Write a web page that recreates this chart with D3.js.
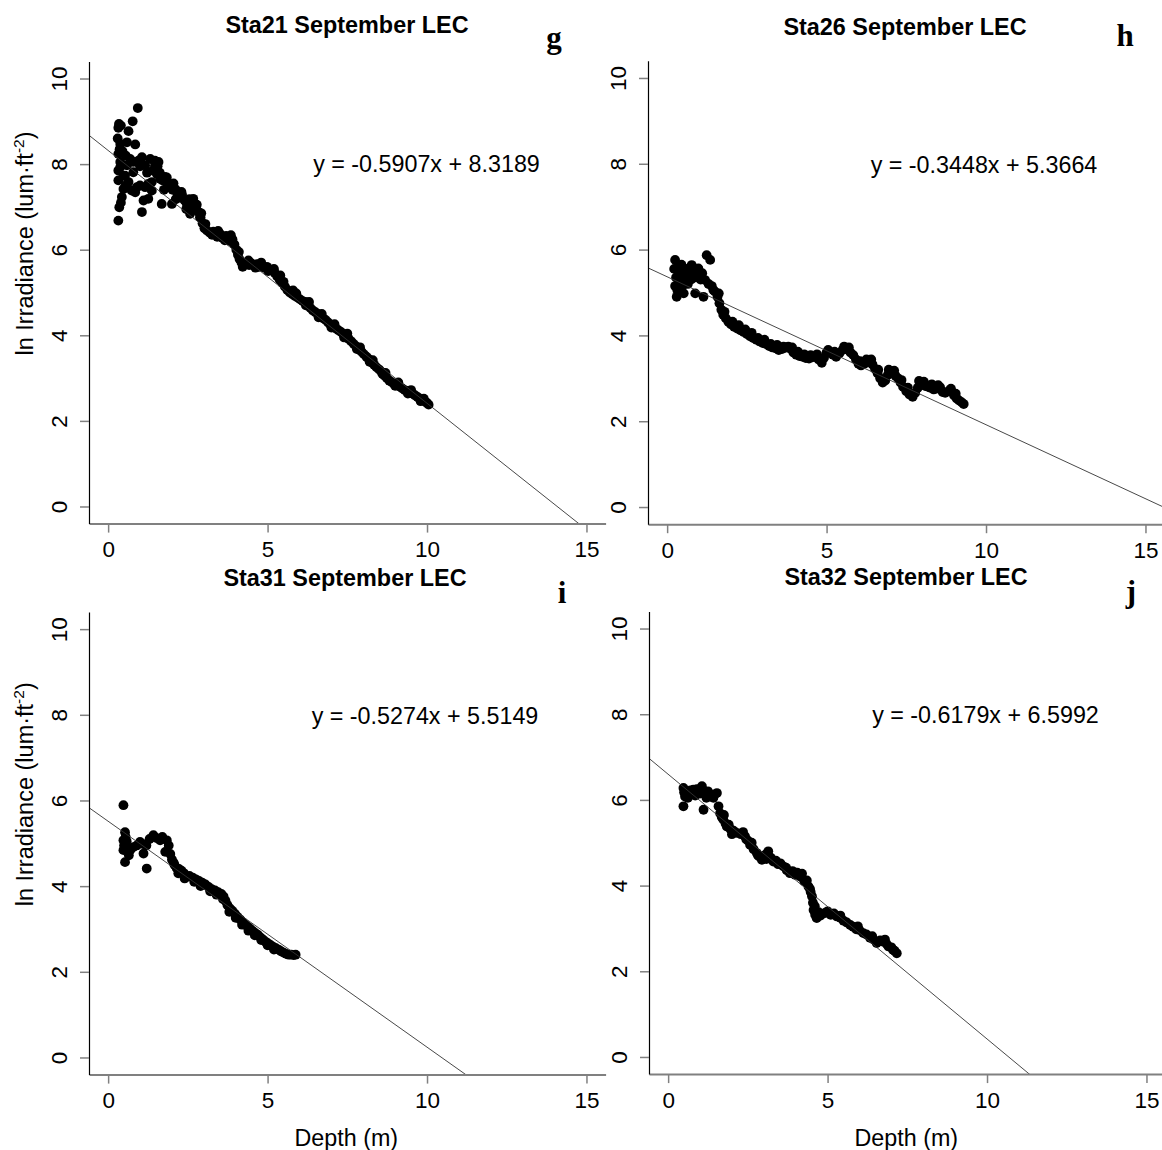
<!DOCTYPE html>
<html><head><meta charset="utf-8">
<script src="https://cdn.jsdelivr.net/npm/d3@7"></script>
<style>body{margin:0;background:#fff} svg{display:block}</style>
</head><body>
<svg id="c" width="1162" height="1150"></svg>
<script>
// ---------------- DATA ----------------
const depthTicks = [0, 5, 10, 15];
const irrTicks = [0, 2, 4, 6, 8, 10];
const titles = ["Sta21 September LEC", "Sta26 September LEC", "Sta31 September LEC", "Sta32 September LEC"];
const letters = ["g", "h", "i", "j"];
const slopes = [-0.5907, -0.3448, -0.5274, -0.6179];
const intercepts = [8.3189, 5.3664, 5.5149, 6.5992];
const equations = ["y = -0.5907x + 8.3189", "y = -0.3448x + 5.3664", "y = -0.5274x + 5.5149", "y = -0.6179x + 6.5992"];
const xLabel = "Depth (m)";

// [depth (m), ln irradiance]
const sta21 = [
 [0.93,9.31],[0.34,8.94],[0.77,9.00],[0.64,8.77],[0.32,8.85],[0.40,8.90],[0.38,8.47],[0.59,8.51],[0.85,8.46],[0.32,8.24],
 [0.38,8.05],[0.69,8.12],[0.95,8.08],[1.16,7.97],[1.47,8.08],[1.53,7.89],[0.32,7.85],[0.32,7.62],[0.53,7.73],[0.79,7.81],
 [1.00,7.50],[1.26,7.54],[1.37,7.38],[0.74,7.38],[0.48,7.42],[0.43,7.23],[0.85,7.34],[1.11,7.15],[1.26,7.19],[1.68,7.07],
 [0.35,6.99],[0.32,6.68],[1.06,6.88],[1.58,8.05],[0.59,7.97],[0.79,8.05],[1.06,8.16],[1.32,8.12],[1.47,7.97],[1.53,7.77],
 [1.37,7.58],[1.16,7.46],[0.90,7.46],[0.64,7.58],[0.48,7.73],[0.38,7.93],[0.45,8.30],[0.55,8.20],[0.30,8.60],[0.36,8.35],
 [1.00,7.95],[1.22,7.80],[0.40,7.10],[0.55,7.50],
 [1.63,7.66],[1.84,7.69],[1.94,7.46],[2.15,7.38],[2.26,7.23],[2.67,7.19],[2.47,7.07],[2.00,7.07],[2.57,6.84],[2.78,6.92],[2.88,6.76],
 [1.55,7.95],[1.62,7.80],[1.70,7.62],[1.78,7.70],[1.86,7.55],[1.95,7.50],[2.02,7.40],[2.10,7.42],[2.18,7.30],[2.25,7.22],
 [2.32,7.28],[2.40,7.15],[2.48,7.10],[2.55,7.18],[2.62,7.05],[2.70,6.98],[2.78,7.05],[2.84,6.88],[2.90,6.75],[2.96,6.62],
 [3.02,6.50],[3.10,6.45],[3.18,6.40],[3.26,6.35],[3.34,6.38],[3.42,6.30],[3.50,6.38],[3.58,6.28],[3.66,6.22],[3.74,6.28],
 [3.82,6.20],[3.90,6.24],[3.96,6.12],[4.02,6.00],[4.07,5.88],[4.12,5.78],[4.18,5.70],[4.26,5.66],[4.34,5.70],[4.42,5.64],
 [4.50,5.68],[4.58,5.62],[4.66,5.66],[4.74,5.60],[4.82,5.64],[4.90,5.58],[4.98,5.60],[5.06,5.54],[5.14,5.52],[5.22,5.46],
 [5.30,5.38],[5.38,5.30],[5.46,5.22],[5.54,5.14],[5.62,5.06],[5.70,5.00],[5.78,4.96],[5.86,4.92],[5.94,4.88],[6.02,4.84],
 [6.10,4.80],[6.18,4.78],[6.26,4.72],[6.34,4.64],[6.42,4.58],[6.50,4.54],[6.58,4.50],[6.66,4.45],[6.74,4.40],[6.82,4.36],
 [6.90,4.30],[6.98,4.24],[7.06,4.19],[7.14,4.16],[7.22,4.12],[7.30,4.08],[7.38,4.02],[7.46,3.97],[7.54,3.92],[7.62,3.86],
 [7.70,3.80],[7.78,3.74],[7.86,3.68],[7.94,3.62],[8.02,3.56],[8.10,3.50],[8.18,3.44],[8.26,3.37],[8.34,3.31],[8.42,3.25],
 [8.50,3.20],[8.58,3.14],[8.66,3.06],[8.74,3.00],[8.82,2.94],[8.90,2.90],[8.98,2.86],[9.06,2.83],[9.14,2.80],[9.22,2.76],
 [9.30,2.72],[9.38,2.70],[9.46,2.66],[9.54,2.64],[9.62,2.60],[9.70,2.56],[9.78,2.52],[9.86,2.48],[9.94,2.45],[10.00,2.42],[10.05,2.38],
 [2.05,7.55],[2.30,7.35],[2.60,7.12],[2.92,6.85],[3.30,6.42],[3.70,6.32],[4.10,5.95],[4.40,5.75],[4.80,5.70],[5.20,5.55],
 [5.50,5.25],[5.90,4.98],[6.30,4.78],[6.70,4.50],[7.10,4.26],[7.50,4.04],[7.90,3.72],[8.30,3.42],[8.70,3.12],[9.10,2.90],[9.50,2.72],[9.90,2.52],
 [1.40,7.85],[1.75,7.40],[2.12,7.18],[2.45,6.95],[3.05,6.60],[3.45,6.44],[3.85,6.34],[4.22,5.60],[4.62,5.58],[5.02,5.50],
 [5.40,5.40],[5.80,5.05],[6.20,4.70],[6.60,4.42],[7.00,4.18],[7.40,3.95],[7.80,3.68],[8.20,3.38],[8.60,3.10],[9.00,2.82],[9.40,2.64],[9.80,2.46]
];
const sta26 = [
 [0.25,5.76],[0.30,4.90],[0.22,5.55],[0.28,5.35],[0.25,5.15],[0.32,5.05],[0.35,5.62],[0.40,5.45],[0.38,5.25],[0.42,5.05],
 [0.45,5.65],[0.50,5.50],[0.55,5.30],[0.48,5.15],[0.52,4.98],[0.60,5.40],[0.65,5.20],[0.62,5.55],[0.70,5.50],[0.75,5.30],
 [0.77,5.64],[0.85,5.35],[0.92,5.48],[0.98,5.56],[0.88,4.98],[1.14,4.90],[1.24,5.87],[1.35,5.76],[1.19,5.29],[1.05,5.30],
 [1.10,5.45],[1.30,5.20],[1.40,5.15],[1.45,5.06],
 [1.50,5.02],[1.58,4.90],[1.64,4.75],[1.70,4.60],[1.76,4.48],[1.84,4.40],[1.92,4.32],[2.00,4.26],[2.10,4.20],[2.20,4.16],
 [2.30,4.12],[2.40,4.08],[2.50,4.03],[2.60,3.98],[2.70,3.94],[2.80,3.90],[2.90,3.86],[3.00,3.82],[3.10,3.80],[3.20,3.75],
 [3.30,3.72],[3.40,3.70],[3.50,3.66],[3.60,3.68],[3.70,3.71],[3.80,3.74],[3.88,3.68],[3.96,3.60],[4.05,3.55],[4.15,3.52],
 [4.25,3.50],[4.35,3.47],[4.45,3.46],[4.55,3.49],[4.65,3.50],[4.75,3.44],[4.85,3.36],[4.92,3.48],[5.00,3.60],[5.10,3.60],
 [5.20,3.55],[5.30,3.50],[5.40,3.58],[5.50,3.66],[5.58,3.70],[5.66,3.67],[5.75,3.60],[5.84,3.54],[5.92,3.44],[6.00,3.34],
 [6.08,3.30],[6.18,3.34],[6.28,3.38],[6.36,3.39],[6.44,3.32],[6.52,3.22],[6.60,3.12],[6.68,3.00],[6.76,2.90],[6.84,2.95],
 [6.92,3.08],[7.00,3.15],[7.08,3.12],[7.16,3.06],[7.24,3.00],[7.32,2.90],[7.40,2.80],[7.50,2.70],[7.60,2.62],[7.70,2.57],
 [7.78,2.66],[7.86,2.78],[7.94,2.88],[8.02,2.86],[8.10,2.82],[8.18,2.80],[8.26,2.78],[8.36,2.74],[8.46,2.76],[8.56,2.79],
 [8.64,2.68],[8.72,2.66],[8.82,2.70],[8.92,2.68],[9.00,2.60],[9.08,2.53],[9.16,2.48],[9.24,2.44],[9.30,2.40],
 [2.05,4.32],[2.45,4.14],[2.85,3.94],[3.25,3.80],[3.65,3.74],[4.10,3.62],[4.50,3.54],[5.05,3.66],[5.55,3.74],[6.05,3.40],
 [6.40,3.44],[6.95,3.20],[7.35,2.96],[7.90,2.94],[8.30,2.86],[8.90,2.76],
 [1.62,4.98],[1.80,4.55],[2.25,4.24],[2.65,4.06],[3.05,3.90],[3.45,3.78],[3.92,3.72],[4.30,3.56],[4.70,3.56],[5.25,3.62],
 [5.70,3.72],[6.25,3.44],[6.62,3.20],[7.12,3.18],[7.55,2.78],[8.05,2.92],[8.50,2.84],[9.05,2.64]
];
const sta31 = [
 [0.48,5.89],[0.53,5.26],[0.48,5.07],[0.48,4.84],[0.53,4.56],[0.50,4.95],[0.55,5.15],[0.60,4.90],[0.70,4.85],[0.79,4.91],
 [0.90,4.95],[1.00,5.03],[1.11,4.76],[1.21,4.41],[1.20,4.95],[1.30,5.10],[1.42,5.19],[1.52,5.12],[1.63,5.07],[1.70,5.15],
 [1.84,5.07],[1.79,4.80],[1.90,4.95],[1.95,4.75],[2.05,4.55],[0.58,5.05],[0.65,4.72],[1.10,4.98],
 [2.00,4.62],[2.08,4.50],[2.15,4.42],[2.22,4.40],[2.30,4.36],[2.38,4.30],[2.46,4.22],[2.55,4.24],[2.65,4.20],[2.75,4.16],
 [2.85,4.12],[2.95,4.08],[3.05,4.04],[3.15,3.98],[3.25,3.93],[3.35,3.90],[3.45,3.86],[3.55,3.82],[3.62,3.76],[3.68,3.66],
 [3.74,3.56],[3.82,3.48],[3.90,3.42],[3.98,3.35],[4.06,3.28],[4.14,3.22],[4.22,3.16],[4.30,3.10],[4.38,3.05],[4.46,3.00],
 [4.54,2.95],[4.62,2.90],[4.70,2.86],[4.78,2.80],[4.86,2.75],[4.94,2.70],[5.02,2.66],[5.10,2.62],[5.18,2.58],[5.26,2.55],
 [5.34,2.52],[5.42,2.48],[5.50,2.45],[5.58,2.42],[5.66,2.40],[5.74,2.40],[5.82,2.39],[5.88,2.40],
 [2.40,4.18],[2.90,4.00],[3.40,3.80],[3.80,3.40],[4.20,3.10],[4.60,2.85],[5.00,2.62],
 [2.20,4.30],[2.70,4.10],[3.20,3.88],[3.60,3.70],[4.00,3.26],[4.40,2.96],[4.80,2.74],[5.20,2.52]
];
const sta32 = [
 [0.48,6.28],[0.48,5.85],[0.53,6.08],[0.50,6.18],[0.60,6.15],[0.70,6.22],[0.79,6.24],[0.90,6.25],[1.06,6.32],[1.00,6.15],
 [1.11,5.77],[1.20,6.05],[1.32,6.12],[1.42,6.05],[1.53,6.16],[1.58,5.85],[1.63,5.69],[1.68,5.60],[1.73,5.54],[1.80,5.45],
 [1.84,5.38],[1.95,5.32],[2.05,5.28],[2.15,5.23],[2.28,5.20],[2.41,5.15],[2.50,5.05],[2.57,4.95],[2.68,4.85],[2.78,4.76],
 [2.86,4.68],[2.94,4.60],[3.05,4.72],[3.14,4.80],[3.22,4.65],[3.30,4.56],[3.45,4.50],[3.61,4.45],[3.72,4.36],[3.82,4.29],
 [3.98,4.25],[4.14,4.21],[4.27,4.10],[4.40,3.98],[4.47,3.85],[4.51,3.75],[4.54,3.60],[4.56,3.43],[4.61,3.32],[4.66,3.24],
 [4.78,3.30],[4.92,3.36],[5.10,3.32],[5.29,3.28],[5.50,3.18],[5.71,3.08],[5.90,2.98],[6.12,2.89],[6.33,2.78],[6.54,2.66],
 [6.75,2.69],[6.91,2.58],[7.05,2.50],[7.17,2.42],
 [0.85,6.10],[1.25,6.20],[1.75,5.65],[1.90,5.42],[2.35,5.25],[2.62,5.00],[3.08,4.62],[3.52,4.52],[3.90,4.34],[4.20,4.28],
 [4.35,4.12],[4.72,3.38],[5.00,3.40],[5.20,3.35],[5.40,3.25],[5.60,3.14],[5.80,3.04],[6.00,2.96],[6.22,2.86],[6.44,2.74],
 [6.65,2.72],[6.85,2.64],[7.10,2.48],
 [0.62,6.05],[1.15,6.18],[1.45,6.12],[2.00,5.20],[2.45,5.08],[2.82,4.70],[3.38,4.58],[3.70,4.42],[4.05,4.30],[4.45,3.92],
 [4.60,3.52],[5.40,3.30],[5.95,3.05],[6.40,2.82],[6.80,2.74],[7.00,2.56]
];
const stations = [sta21, sta26, sta31, sta32];

// ---------------- LAYOUT ----------------
const layouts = [
 {l:89, t:61.4, r:605.6, b:523.6, titleX:347, titleY:33, letX:554, letY:48, eqX:426.5, eqY:171.5, ylab:true, xlab:false},
 {l:648, t:60.8, r:1164.6, b:524.2, titleX:905, titleY:34.5, letX:1125, letY:46, eqX:984, eqY:172.5, ylab:false, xlab:false},
 {l:89, t:612, r:605.6, b:1074.6, titleX:345, titleY:585.5, letX:562, letY:603, eqX:425, eqY:723.5, ylab:true, xlab:true},
 {l:649, t:611.4, r:1165.6, b:1074.1, titleX:906, titleY:584.5, letX:1131, letY:602, eqX:985.5, eqY:722.5, ylab:false, xlab:true}
];
const SANS = "'Liberation Sans', Arial, sans-serif";
const SERIF = "'Liberation Serif', 'Times New Roman', serif";

const svg = d3.select("#c");
svg.append("rect").attr("width",1162).attr("height",1150).attr("fill","#fff");

stations.forEach((data, i) => {
  const L = layouts[i];
  const x = d3.scaleLinear().domain([-0.6, 15.6]).range([L.l, L.r]);
  const y = d3.scaleLinear().domain([-0.4, 10.4]).range([L.b, L.t]);
  const g = svg.append("g");

  const clipId = "clip" + i;
  svg.append("clipPath").attr("id", clipId).append("rect")
    .attr("x", L.l).attr("y", L.t).attr("width", L.r - L.l).attr("height", L.b - L.t);

  // points
  g.append("g").selectAll("circle").data(data).join("circle")
    .attr("cx", d => x(d[0])).attr("cy", d => y(d[1])).attr("r", 4.9).attr("fill", "#000");

  // regression line
  const x0 = -0.6, x1 = 15.6;
  g.append("line").attr("clip-path", `url(#${clipId})`)
    .attr("x1", x(x0)).attr("y1", y(slopes[i]*x0 + intercepts[i]))
    .attr("x2", x(x1)).attr("y2", y(slopes[i]*x1 + intercepts[i]))
    .attr("stroke", "#333").attr("stroke-width", 0.9);

  // x axis
  const xa = g.append("g").attr("transform", `translate(0,${L.b})`)
    .call(d3.axisBottom(x).tickValues(depthTicks).tickSize(9).tickSizeOuter(0).tickFormat(d3.format("d")));
  xa.select(".domain").attr("stroke", "#808080").attr("stroke-width", 2);
  xa.selectAll(".tick line").attr("stroke", "#808080").attr("stroke-width", 1.5);
  xa.selectAll(".tick text").attr("y", 33.5).attr("dy", 0)
    .attr("font-family", SANS).attr("font-size", 22.5).attr("fill", "#000");

  // y axis
  const ya = g.append("g").attr("transform", `translate(${L.l},0)`)
    .call(d3.axisLeft(y).tickValues(irrTicks).tickSize(9).tickSizeOuter(0).tickFormat(d3.format("d")));
  ya.select(".domain").attr("stroke", "#000").attr("stroke-width", 1.2);
  ya.selectAll(".tick line").attr("stroke", "#808080").attr("stroke-width", 1.5);
  ya.selectAll(".tick text").attr("x", 0).attr("dy", 0).attr("text-anchor", "middle")
    .attr("transform", "translate(-22,0) rotate(-90)")
    .attr("font-family", SANS).attr("font-size", 22.5).attr("fill", "#000");

  // title
  g.append("text").attr("x", L.titleX).attr("y", L.titleY).attr("text-anchor", "middle")
    .attr("font-family", SANS).attr("font-weight", "bold").attr("font-size", 23.4).text(titles[i]);
  // panel letter
  g.append("text").attr("x", L.letX).attr("y", L.letY).attr("text-anchor", "middle")
    .attr("font-family", SERIF).attr("font-weight", "bold").attr("font-size", 31).text(letters[i]);
  // equation
  g.append("text").attr("x", L.eqX).attr("y", L.eqY).attr("text-anchor", "middle")
    .attr("font-family", SANS).attr("font-size", 23.3).text(equations[i]);

  if (L.ylab) {
    const cy = (L.t + L.b) / 2 - 49;
    const t = g.append("text").attr("text-anchor", "middle")
      .attr("transform", `translate(33,${cy}) rotate(-90)`)
      .attr("font-family", SANS).attr("font-size", 23.5);
    t.append("tspan").text("ln Irradiance (lum·ft");
    t.append("tspan").attr("font-size", 15.5).attr("dy", -9).text("-2");
    t.append("tspan").attr("dy", 9).text(")");
  }
  if (L.xlab) {
    g.append("text").attr("x", (L.l + L.r)/2 - 1).attr("y", 1145.5).attr("text-anchor", "middle")
      .attr("font-family", SANS).attr("font-size", 23.3).text(xLabel);
  }
});
</script>
</body></html>
